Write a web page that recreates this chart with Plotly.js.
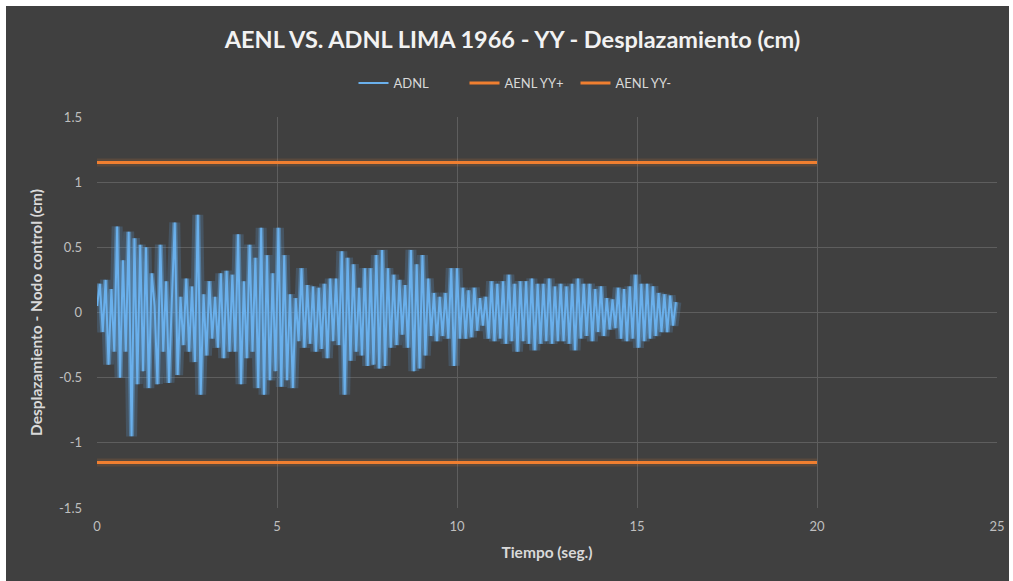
<!DOCTYPE html>
<html>
<head>
<meta charset="utf-8">
<script src="https://cdn.plot.ly/plotly-3.0.1.min.js"></script>
<style>
  html, body { margin: 0; padding: 0; background: #ffffff; width: 1013px; height: 581px; overflow: hidden; }
  #chart { position: absolute; left: 6px; top: 6px; width: 1003px; height: 575px; }
</style>
</head>
<body>
<div id="chart"></div>
<script>
// ---- data ----
const chartTitle = "AENL VS. ADNL LIMA 1966 - YY - Desplazamiento (cm)";
const xTitle = "Tiempo (seg.)";
const yTitle = "Desplazamiento - Nodo control (cm)";
const seriesNames = ["ADNL", "AENL YY+", "AENL YY-"];

// ADNL displacement samples (cm), sampled every 0.08 s starting at t = 0
const adnlStart = 0;
const adnlStep = 0.08;
const adnl = [
  0.05, 0.22, -0.15, 0.25, -0.40, 0.18, -0.30, 0.66, -0.50, 0.40,
  -0.30, 0.62, -0.95, 0.57, -0.55, 0.52, -0.45, 0.50, -0.58, 0.30,
  0.05, -0.55, 0.52, -0.30, 0.24, -0.54, 0.10, 0.69, -0.48, 0.12,
  -0.25, 0.26, -0.30, 0.20, -0.38, 0.75, -0.63, 0.14, -0.33, 0.24,
  -0.20, 0.12, -0.27, 0.30, -0.35, 0.32, -0.30, 0.29, -0.30, 0.60,
  -0.55, 0.24, -0.35, 0.52, -0.30, 0.42, -0.58, 0.65, -0.63, 0.44,
  -0.52, 0.30, -0.45, 0.65, -0.57, 0.44, -0.52, 0.14, -0.58, 0.11,
  -0.22, 0.34, -0.27, 0.21, -0.24, 0.20, -0.30, 0.19, -0.28, 0.22,
  -0.35, 0.26, -0.22, 0.26, -0.25, 0.47, -0.63, 0.42, -0.37, 0.37,
  -0.30, 0.19, -0.33, 0.34, -0.41, 0.34, -0.40, 0.44, -0.43, 0.48,
  -0.41, 0.34, -0.27, 0.29, -0.25, 0.25, -0.17, 0.21, -0.27, 0.48,
  -0.45, 0.37, -0.43, 0.44, -0.33, 0.26, -0.18, 0.15, -0.22, 0.12,
  -0.18, 0.15, -0.20, 0.34, -0.41, 0.34, -0.20, 0.19, -0.20, 0.17,
  -0.19, 0.19, -0.14, 0.11, -0.10, 0.12, -0.20, 0.24, -0.22, 0.22,
  -0.20, 0.24, -0.24, 0.29, -0.22, 0.22, -0.30, 0.24, -0.22, 0.24,
  -0.24, 0.26, -0.29, 0.22, -0.24, 0.22, -0.22, 0.26, -0.24, 0.20,
  -0.22, 0.22, -0.22, 0.20, -0.24, 0.22, -0.29, 0.26, -0.20, 0.22,
  -0.18, 0.22, -0.22, 0.18, -0.15, 0.20, -0.18, 0.11, -0.13, 0.10,
  -0.12, 0.19, -0.20, 0.18, -0.22, 0.20, -0.20, 0.29, -0.27, 0.22,
  -0.22, 0.22, -0.20, 0.20, -0.18, 0.15, -0.15, 0.14, -0.15, 0.13,
  -0.10, 0.08
];

// AENL limits (cm)
const aenlTime = [0, 20];
const aenlPos = [1.15, 1.15];
const aenlNeg = [-1.15, -1.15];

// axis ticks
const xTickVals = [0, 5, 10, 15, 20, 25];
const xTickText = ["0", "5", "10", "15", "20", "25"];
const yTickVals = [-1.5, -1, -0.5, 0, 0.5, 1, 1.5];
const yTickText = ["-1.5", "-1", "-0.5", "0", "0.5", "1", "1.5"];

// ---- styling ----
const FONT = 'Lato, "Open Sans", "DejaVu Sans", sans-serif';
const BLUE = '#6AB0EC';
const ORANGE = '#F07F30';
const BG = '#404040';
const GRID = '#5e5e5e';

const traces = [
  { x0: adnlStart, dx: adnlStep, y: adnl, type: 'scatter', mode: 'lines',
    line: { color: 'rgba(91,155,213,0.22)', width: 11 }, showlegend: false, hoverinfo: 'skip' },
  { x0: adnlStart, dx: adnlStep, y: adnl, type: 'scatter', mode: 'lines',
    line: { color: 'rgba(100,170,230,0.45)', width: 5 }, showlegend: false, hoverinfo: 'skip' },
  { x: aenlTime, y: aenlPos, type: 'scatter', mode: 'lines',
    line: { color: 'rgba(237,125,49,0.15)', width: 8 }, showlegend: false, hoverinfo: 'skip' },
  { x: aenlTime, y: aenlNeg, type: 'scatter', mode: 'lines',
    line: { color: 'rgba(237,125,49,0.15)', width: 8 }, showlegend: false, hoverinfo: 'skip' },
  { x0: adnlStart, dx: adnlStep, y: adnl, type: 'scatter', mode: 'lines', name: seriesNames[0],
    line: { color: BLUE, width: 2 } },
  { x: aenlTime, y: aenlPos, type: 'scatter', mode: 'lines', name: seriesNames[1],
    line: { color: ORANGE, width: 3 } },
  { x: aenlTime, y: aenlNeg, type: 'scatter', mode: 'lines', name: seriesNames[2],
    line: { color: ORANGE, width: 3 } }
];

const layout = {
  width: 1003, height: 575,
  paper_bgcolor: BG, plot_bgcolor: BG,
  font: { family: FONT, color: '#d9d9d9', size: 13 },
  margin: { l: 91, r: 12, t: 111, b: 73, pad: 0 },
  title: { text: chartTitle, x: 0.505, xanchor: 'center', xref: 'container',
           y: 1 - 34 / 575, yanchor: 'middle', yref: 'container',
           font: { family: FONT, size: 23.5, color: '#f2f2f2', weight: 'bold' } },
  showlegend: true,
  legend: { orientation: 'h', x: 0.47, xanchor: 'center', y: 1.087, yanchor: 'middle',
            bgcolor: 'rgba(0,0,0,0)', font: { family: FONT, size: 13, color: '#d9d9d9' },
            entrywidth: 66, entrywidthmode: 'pixels', itemwidth: 30, tracegroupgap: 0 },
  xaxis: {
    range: [0, 25], tickmode: 'array', tickvals: xTickVals, ticktext: xTickText,
    showgrid: true, gridcolor: GRID, gridwidth: 1, zeroline: false, showline: false,
    ticks: '', ticklabelstandoff: 9, tickfont: { family: FONT, size: 13, color: '#bfbfbf' },
    title: { text: xTitle, standoff: 14, font: { family: FONT, size: 15.5, color: '#d9d9d9', weight: 'bold' } }
  },
  yaxis: {
    range: [-1.5, 1.5], tickmode: 'array', tickvals: yTickVals, ticktext: yTickText,
    showgrid: true, gridcolor: GRID, gridwidth: 1, zeroline: false, showline: false,
    ticks: '', ticklabelstandoff: 14, tickfont: { family: FONT, size: 13, color: '#bfbfbf' },
    title: { text: yTitle, standoff: 12, font: { family: FONT, size: 15.5, color: '#d9d9d9', weight: 'bold' } }
  }
};

Plotly.newPlot('chart', traces, layout, { displayModeBar: false, staticPlot: true });
</script>
</body>
</html>
